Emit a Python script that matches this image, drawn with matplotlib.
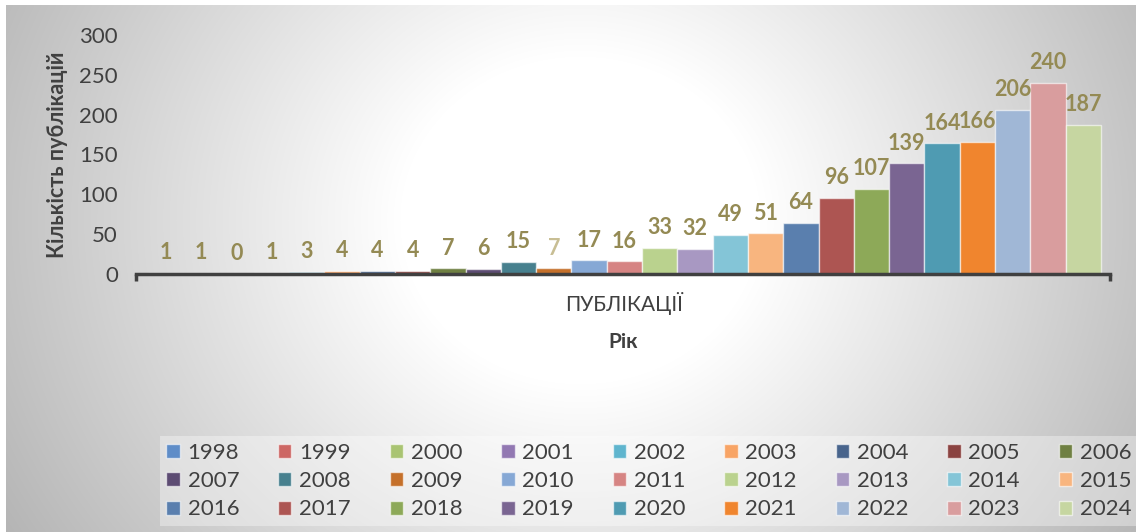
import numpy as np
import matplotlib
matplotlib.use("Agg")
import matplotlib.pyplot as plt

plt.rcParams['font.family'] = ['Lato', 'DejaVu Sans']

# data
years = [str(y) for y in range(1998, 2025)]
counts = [1, 1, 0, 1, 3, 4, 4, 4, 7, 6, 15, 7, 17, 16, 33, 32, 49, 51,
          64, 96, 107, 139, 164, 166, 206, 240, 187]
colors = ['#5F8DC8', '#CD6764', '#A9C472', '#9278B2', '#5FB5CE', '#F8A465',
          '#48648C', '#8B4341', '#6F8042', '#5D4C73', '#47808E', '#C5702A',
          '#86A8D5', '#D68483', '#BAD28E', '#A898C2', '#84C5D7', '#F8B57F',
          '#5A7FAE', '#AD5552', '#8DA958', '#7A6592', '#4F9BB2', '#F0852E',
          '#A0B7D6', '#D99D9E', '#C6D6A1']
category = 'ПУБЛІКАЦІЇ'

fig = plt.figure(figsize=(11.36, 5.32), dpi=100)

# radial gradient background
bg = fig.add_axes([0, 0, 1, 1], zorder=-10)
H, W = 532, 1136
yy, xx = np.mgrid[0:H, 0:W]
d = np.sqrt((xx - 580.0) ** 2 + ((yy - 220.0) * 1.1) ** 2)
v = 1 - 0.25 * np.clip((d - 180) / 420, 0, 1.3)
img = np.dstack([v, v, v])
img[:5, :, :] = 1
img[:, :6, :] = 1
bg.imshow(img, extent=[0, 1, 0, 1], aspect='auto', origin='upper')
bg.axis('off')

ax = fig.add_axes([136 / W, 1 - 274 / H, (1110 - 136) / W, (274 - 35) / H])
ax.patch.set_alpha(0)

x = np.arange(len(years))
handles = []
for i in range(len(years)):
    b = ax.bar(x[i], counts[i], width=1.0, color=colors[i],
               edgecolor=(1, 1, 1, 0.6), linewidth=1.0, label=years[i])
    lc = '#C8BE94' if years[i] == '2009' else '#948A54'
    ax.bar_label(b, padding=7, color=lc, fontsize=15.5, fontweight='bold')
    handles.append(b)

ax.set_xlim(-0.84, len(years) - 0.5 + 0.26)
ax.set_ylim(0, 300)
ax.set_yticks(range(0, 301, 50))
ax.tick_params(axis='y', length=0, pad=13, labelsize=16, labelcolor='#404040')
ax.set_xticks([(len(years) - 1) / 2])
ax.set_xticklabels([category])
ax.tick_params(axis='x', length=0, pad=13, labelsize=15, labelcolor='#404040')
ax.set_xticks(list(ax.get_xlim()), minor=True)
ax.tick_params(axis='x', which='minor', length=5, width=2.5, color='#404040')
for s in ['top', 'right', 'left']:
    ax.spines[s].set_visible(False)
ax.spines['bottom'].set_linewidth(2.5)
ax.spines['bottom'].set_color('#404040')

ax.set_ylabel('Кількість публікацій', fontsize=15.5, fontweight='bold', color='#404040')
ax.yaxis.set_label_coords(-0.07, 0.5)
ax.set_xlabel('Рік', fontsize=15, fontweight='bold', color='#404040', labelpad=12)

# legend in rows of 9
ncol = 9
order = []
for c in range(ncol):
    for r in range(3):
        order.append(r * ncol + c)
leg = fig.legend([handles[k] for k in order], [years[k] for k in order],
                 ncol=ncol, loc='center', bbox_to_anchor=(649 / W, 1 - 481 / H),
                 fontsize=16, frameon=True, handlelength=0.6, handleheight=0.6,
                 handletextpad=0.35, columnspacing=1.75, labelspacing=0.38,
                 borderpad=0.3)
leg.get_frame().set_facecolor('white')
leg.get_frame().set_alpha(0.35)
leg.get_frame().set_edgecolor('none')
leg.get_frame().set_boxstyle('square', pad=0)
for t in leg.get_texts():
    t.set_color('#404040')

fig.savefig('out.png', dpi=100)
